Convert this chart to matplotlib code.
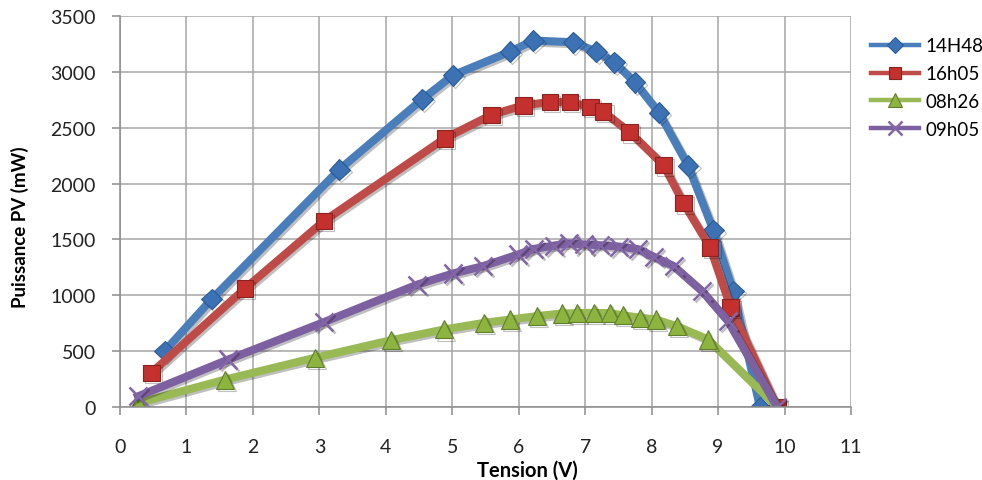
import matplotlib
matplotlib.use("Agg")
import matplotlib.pyplot as plt
import matplotlib.patheffects as pe

plt.rcParams['font.family'] = ['Lato', 'DejaVu Sans']

# 14H48
tension_1448 = [0.67, 1.38, 3.30, 4.55, 5.01, 5.87, 6.22, 6.82, 7.17, 7.44, 7.75, 8.11, 8.55, 8.93, 9.23, 9.63]
puissance_1448 = [500, 965, 2125, 2755, 2970, 3180, 3280, 3265, 3180, 3085, 2905, 2635, 2160, 1580, 1035, 0]
# 16h05
tension_1605 = [0.47, 1.88, 3.07, 4.89, 5.59, 6.07, 6.47, 6.77, 7.08, 7.27, 7.67, 8.18, 8.48, 8.88, 9.19, 9.89]
puissance_1605 = [305, 1060, 1665, 2405, 2615, 2700, 2730, 2730, 2685, 2645, 2460, 2165, 1825, 1430, 890, 0]
# 08h26
tension_0826 = [0.27, 1.58, 2.93, 4.08, 4.88, 5.48, 5.87, 6.27, 6.65, 6.88, 7.13, 7.37, 7.57, 7.82, 8.06, 8.38, 8.85, 9.89]
puissance_0826 = [35, 245, 440, 598, 694, 753, 783, 813, 837, 840, 843, 840, 820, 800, 783, 723, 604, 0]
# 09h05
tension_0905 = [0.27, 1.63, 3.07, 4.47, 5.01, 5.46, 5.99, 6.23, 6.53, 6.75, 6.98, 7.22, 7.51, 7.80, 8.03, 8.33, 8.76, 9.15, 9.89]
puissance_0905 = [95, 425, 760, 1095, 1195, 1260, 1365, 1415, 1445, 1465, 1455, 1448, 1436, 1412, 1346, 1262, 1037, 768, 0]

xticks = list(range(0, 12))
yticks = list(range(0, 3501, 500))

fig = plt.figure(figsize=(9.82, 4.81), dpi=100)
ax = fig.add_axes([0.1222, 0.1518, 0.7444, 0.8129])

ombre = [pe.SimpleLineShadow(offset=(1.5, -1.5), alpha=0.25), pe.Normal()]

ax.plot(tension_1448, puissance_1448, color='#4A7EBB', lw=5.8, marker='D', ms=10.5,
        mfc='#3C72B4', mec='#2B5C97', mew=0.8, solid_joinstyle='round', label='14H48', path_effects=ombre)
ax.plot(tension_1605, puissance_1605, color='#BE4B48', lw=5.8, marker='s', ms=12,
        mfc='#C4302D', mec='#8A2320', mew=0.8, solid_joinstyle='round', label='16h05', path_effects=ombre)
ax.plot(tension_0826, puissance_0826, color='#98B954', lw=5.8, marker='^', ms=13,
        mfc='#8DB43F', mec='#5F7F2C', mew=0.8, solid_joinstyle='round', label='08h26', path_effects=ombre)
ax.plot(tension_0905, puissance_0905, color='#7D60A0', lw=5.8, marker='x', ms=13,
        mec='#8466A8', mew=1.8, solid_joinstyle='round', label='09h05', path_effects=ombre)

ax.set_xlim(0, 11)
ax.set_ylim(0, 3500)
ax.set_xticks(xticks)
ax.set_yticks(yticks)
ax.grid(True, color='#A6A6A6', lw=1.1)
ax.set_axisbelow(True)
for s in ['top', 'right']:
    ax.spines[s].set_visible(False)
for s in ['left', 'bottom']:
    ax.spines[s].set_color('#8C8C8C')
    ax.spines[s].set_linewidth(1.1)
ax.tick_params(axis='both', direction='out', length=5.5, color='#8C8C8C', width=1.1,
               labelsize=14, labelcolor='#222222')
ax.tick_params(axis='x', pad=17)
ax.tick_params(axis='y', pad=12)

ax.set_xlabel('Tension (V)', fontsize=14.5, fontweight='bold')
ax.set_ylabel('Puissance PV (mW)', fontsize=13.5, fontweight='bold')
ax.xaxis.set_label_coords(0.557, -0.134)
ax.yaxis.set_label_coords(-0.124, 0.463)

leg = fig.legend(loc='upper left', bbox_to_anchor=(0.879, 0.936), frameon=False,
                 fontsize=13.5, handlelength=2.6, handletextpad=0.3, labelspacing=0.58,
                 borderaxespad=0, markerscale=0.75)
for h in leg.legend_handles:
    h.set_linewidth(3.2)
    h.set_path_effects([])

fig.savefig('out.png', dpi=100)
